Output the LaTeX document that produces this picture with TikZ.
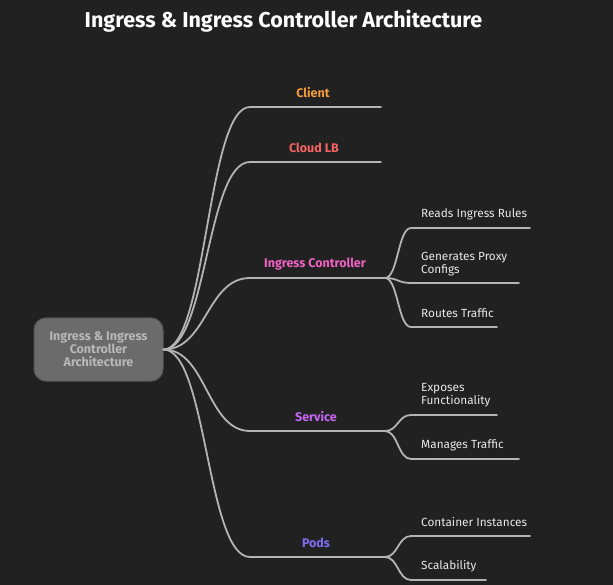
\documentclass[tikz,border=0pt]{standalone}
\usepackage{fontspec}
\setmainfont{Fira Sans}
\usetikzlibrary{calc}
\definecolor{bg}{HTML}{212121}
\definecolor{edge}{HTML}{B4B4B4}
\definecolor{rootfill}{HTML}{6B6B6B}
\definecolor{rootline}{HTML}{5A5A5A}
\definecolor{roottext}{HTML}{B8B8B8}
\definecolor{leaftext}{HTML}{E8E8E8}
\definecolor{clientcol}{HTML}{F39A3C}
\definecolor{cloudcol}{HTML}{F26464}
\definecolor{ingresscol}{HTML}{EE62C2}
\definecolor{servicecol}{HTML}{C566F2}
\definecolor{podscol}{HTML}{7E6DF0}
\begin{document}
\begin{tikzpicture}[x=1pt,y=-1pt,
  branch/.style={draw=edge,line width=1.8pt,line cap=round},
  curvy/.style={to path={let \p1=(\tikztostart),\p2=(\tikztotarget) in
    .. controls ({(\x1+\x2)/2},\y1) and ({(\x1+\x2)/2},\y2) .. (\tikztotarget)}},
  rootbox/.style={draw=rootline,line width=1pt,fill=rootfill,rounded corners=12pt,
    minimum width=129pt,minimum height=63pt,align=center,text=roottext,
    font=\bfseries\fontsize{12.5}{13}\selectfont},
  main/.style={font=\bfseries\fontsize{12.5}{13}\selectfont,inner sep=0pt},
  leaf/.style={anchor=west,align=left,text=leaftext,inner sep=0pt,
    font=\fontsize{11.8}{13}\selectfont}]
\path[use as bounding box,fill=bg] (0,0) rectangle (613,585);
\node[text=white,font=\bfseries\fontsize{21.5}{22}\selectfont] (title) at (283.5,21) {Ingress \& Ingress Controller Architecture};
\node[rootbox] (root) at (98.5,349.5) {Ingress \& Ingress\\Controller\\Architecture};
% first level
\node[main,text=clientcol] (client) at (313,93) {Client};
\node[main,text=cloudcol] (cloud) at (314,148) {Cloud LB};
\node[main,text=ingresscol] (ingress) at (315,264) {Ingress Controller};
\node[main,text=servicecol] (service) at (316,417) {Service};
\node[main,text=podscol] (pods) at (316,543) {Pods};
\coordinate (clientA) at (250,107); \coordinate (clientB) at (381,107);
\coordinate (cloudA) at (250,162); \coordinate (cloudB) at (381,162);
\coordinate (ingressA) at (250,278); \coordinate (ingressB) at (385,278);
\coordinate (serviceA) at (250,431); \coordinate (serviceB) at (385,431);
\coordinate (podsA) at (250,557); \coordinate (podsB) at (385,557);
\foreach \b in {client,cloud,ingress,service,pods}
  \draw[branch] (root.east) to[curvy] (\b A) -- (\b B);
% second level
\node[leaf] (reads) at (421,214) {Reads Ingress Rules};
\node[leaf] (gens) at (421,264) {Generates Proxy\\Configs};
\node[leaf] (routes) at (421,313) {Routes Traffic};
\node[leaf] (exposes) at (421,395.5) {Exposes\\Functionality};
\node[leaf] (manages) at (421,445) {Manages Traffic};
\node[leaf] (containers) at (421,522) {Container Instances};
\node[leaf] (scal) at (421,566) {Scalability};
\coordinate (readsA) at (411,228); \coordinate (readsB) at (530,228);
\coordinate (gensA) at (411,283); \coordinate (gensB) at (519,283);
\coordinate (routesA) at (411,327); \coordinate (routesB) at (497,327);
\coordinate (exposesA) at (411,415); \coordinate (exposesB) at (497,415);
\coordinate (managesA) at (411,459); \coordinate (managesB) at (519,459);
\coordinate (containersA) at (411,536); \coordinate (containersB) at (530,536);
\coordinate (scalA) at (411,580); \coordinate (scalB) at (486,580);
\foreach \b in {reads,gens,routes}
  \draw[branch] (ingressB) to[curvy] (\b A) -- (\b B);
\foreach \b in {exposes,manages}
  \draw[branch] (serviceB) to[curvy] (\b A) -- (\b B);
\foreach \b in {containers,scal}
  \draw[branch] (podsB) to[curvy] (\b A) -- (\b B);
\end{tikzpicture}
\end{document}
